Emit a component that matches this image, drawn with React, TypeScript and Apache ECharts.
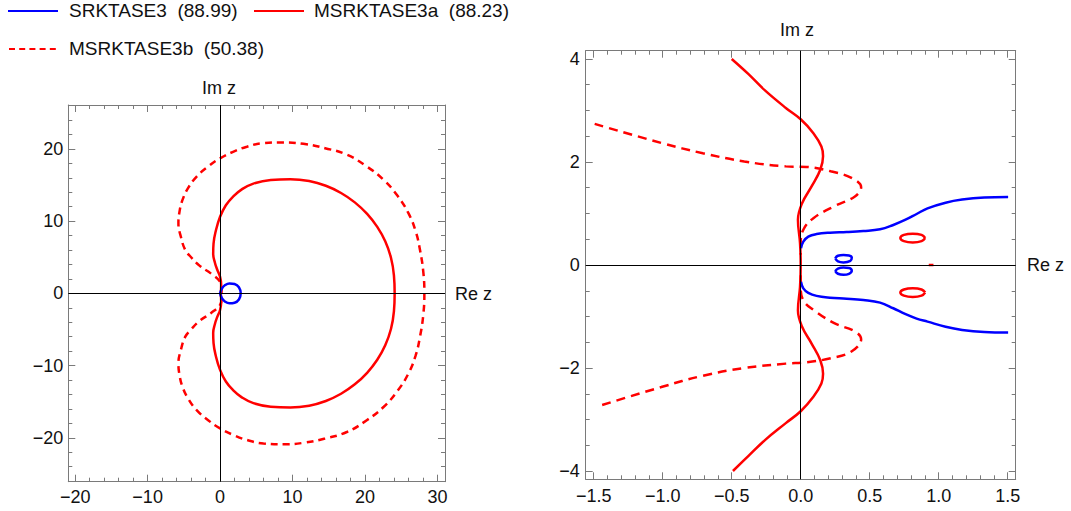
import React, { useEffect, useRef } from "react";
import * as echarts from "echarts";

// ---------- legend ----------
const legendNames = ["SRKTASE3  (88.99)", "MSRKTASE3a  (88.23)", "MSRKTASE3b  (50.38)"];
const BLUE = "#0000ff";
const RED = "#ff0000";
const FRAME = "#7a7a7a";
const FONT = "Liberation Sans, Arial, sans-serif";

// ---------- tick values ----------
const leftXMajor = [-20, -10, 0, 10, 20, 30];
const leftXMinor = [-20, -18, -16, -14, -12, -10, -8, -6, -4, -2, 0, 2, 4, 6, 8, 10, 12, 14, 16, 18, 20, 22, 24, 26, 28, 30];
const leftYMajor = [-20, -10, 0, 10, 20];
const leftYMinor = [-26, -24, -22, -20, -18, -16, -14, -12, -10, -8, -6, -4, -2, 0, 2, 4, 6, 8, 10, 12, 14, 16, 18, 20, 22, 24, 26];
const rightXMajor = [-1.5, -1.0, -0.5, 0, 0.5, 1.0, 1.5];
const rightXMinor = [-1.5, -1.4, -1.3, -1.2, -1.1, -1.0, -0.9, -0.8, -0.7, -0.6, -0.5, -0.4, -0.3, -0.2, -0.1, 0, 0.1, 0.2, 0.3, 0.4, 0.5, 0.6, 0.7, 0.8, 0.9, 1.0, 1.1, 1.2, 1.3, 1.4, 1.5];
const rightYMajor = [-4, -2, 0, 2, 4];
const rightYMinor = [-4, -3.5, -3, -2.5, -2, -1.5, -1, -0.5, 0, 0.5, 1, 1.5, 2, 2.5, 3, 3.5, 4];

// ---------- left panel data ----------
const leftBlueLoop = [
  [0, 0], [0.25, 0.65], [0.7, 1.15], [1.3, 1.38], [2.0, 1.3], [2.6, 0.85], [2.85, 0],
  [2.6, -0.85], [2.0, -1.3], [1.3, -1.38], [0.7, -1.15], [0.25, -0.65], [0, 0],
];
const leftRedSolid = [
  [0.1, 0], [0.15, 1.2], [0, 2.3], [-0.4, 3.3], [-0.7, 4.2], [-0.95, 5.5], [-0.9, 6.9], [-0.6, 8.6],
  [0, 10.6], [0.8, 12.2], [1.8, 13.4], [3.0, 14.4], [4.6, 15.2], [7.0, 15.7], [9.7, 15.8], [12.3, 15.55],
  [14.6, 14.9], [16.7, 13.9], [18.6, 12.6], [20.3, 11.0], [21.7, 9.2], [22.8, 7.2], [23.6, 4.9],
  [24.0, 2.5], [24.1, 0],
  [24.0, -2.5], [23.6, -4.9], [22.8, -7.2], [21.7, -9.2], [20.3, -11.0], [18.6, -12.6], [16.7, -13.9],
  [14.6, -14.9], [12.3, -15.55], [9.7, -15.8], [7.0, -15.7], [4.6, -15.2], [3.0, -14.4], [1.8, -13.4],
  [0.8, -12.2], [0, -10.6], [-0.6, -8.6], [-0.9, -6.9], [-0.95, -5.5], [-0.7, -4.2], [-0.4, -3.3],
  [0, -2.3], [0.15, -1.2], [0.1, 0],
];
const leftRedDashed = [
  [0.2, 0], [0.2, 0.8], [0, 1.6], [-1.2, 2.7], [-2.8, 3.8], [-4.0, 5.0], [-4.8, 6.0], [-5.4, 7.8],
  [-5.75, 9.7], [-5.6, 11.3], [-5.2, 12.9], [-4.4, 14.6], [-3.2, 16.2], [-1.6, 17.6], [0, 18.7],
  [1.8, 19.6], [3.7, 20.3], [6.0, 20.8], [8.75, 20.9], [11.5, 20.7], [14.5, 20.1], [17.5, 19.2],
  [20.2, 17.6], [22.6, 15.7], [24.5, 13.5], [26.0, 11.1], [27.0, 8.6], [27.6, 6.0], [28.05, 3.0], [28.2, 0],
  [28.05, -3.0], [27.6, -6.0], [27.0, -8.6], [26.0, -11.1], [24.5, -13.5], [22.6, -15.7], [20.2, -17.6],
  [17.5, -19.2], [14.5, -20.1], [11.5, -20.7], [8.75, -20.9], [6.0, -20.8], [3.7, -20.3], [1.8, -19.6],
  [0, -18.7], [-1.6, -17.6], [-3.2, -16.2], [-4.4, -14.6], [-5.2, -12.9], [-5.6, -11.3], [-5.75, -9.7],
  [-5.4, -7.8], [-4.8, -6.0], [-4.0, -5.0], [-2.8, -3.8], [-1.2, -2.7], [0, -1.6], [0.2, -0.8], [0.2, 0],
];

// ---------- right panel data ----------
const rightBlueUpper = [
  [0.002, 0.324], [0.019, 0.453], [0.055, 0.55], [0.115, 0.6], [0.212, 0.627], [0.333, 0.64],
  [0.454, 0.66], [0.575, 0.693], [0.671, 0.777], [0.756, 0.874], [0.84, 0.99], [0.919, 1.1],
  [1.05, 1.21], [1.17, 1.27], [1.33, 1.31], [1.503, 1.32],
];
const rightBlueLower = [
  [0.002, -0.324], [0.019, -0.453], [0.055, -0.54], [0.115, -0.6], [0.212, -0.634], [0.333, -0.653],
  [0.454, -0.68], [0.575, -0.73], [0.671, -0.84], [0.756, -0.95], [0.84, -1.04], [0.919, -1.1],
  [1.05, -1.2], [1.17, -1.26], [1.33, -1.3], [1.503, -1.31],
];
const rightBlueLoopUpper = [
  [0.25, 0.13], [0.27, 0.18], [0.31, 0.195], [0.35, 0.185], [0.37, 0.14], [0.36, 0.08],
  [0.31, 0.05], [0.27, 0.07], [0.25, 0.13],
];
const rightBlueLoopLower = [
  [0.25, -0.12], [0.27, -0.07], [0.31, -0.05], [0.35, -0.06], [0.37, -0.11], [0.35, -0.17],
  [0.31, -0.19], [0.27, -0.17], [0.25, -0.12],
];
const rightRedSolid = [
  [-0.5, 4.0], [-0.38, 3.71], [-0.259, 3.39], [-0.108, 3.05], [0, 2.83], [0.092, 2.56], [0.15, 2.3],
  [0.162, 2.11], [0.142, 1.85], [0.08, 1.53], [0.01, 1.2], [-0.02, 0.88], [-0.005, 0.43], [0, 0],
  [-0.005, -0.43], [-0.02, -0.88], [0.01, -1.2], [0.08, -1.53], [0.142, -1.85], [0.162, -2.11],
  [0.15, -2.3], [0.092, -2.56], [0, -2.84], [-0.108, -3.07], [-0.259, -3.4], [-0.38, -3.71], [-0.491, -4.0],
];
const rightRedDashedUpper = [
  [-1.493, 2.74], [-1.01, 2.37], [-0.709, 2.17], [-0.409, 2.01], [-0.108, 1.915], [0.042, 1.905],
  [0.217, 1.82], [0.368, 1.69], [0.438, 1.51], [0.393, 1.33], [0.243, 1.14], [0.092, 0.91],
  [0.02, 0.69], [0.0, 0.43], [0, 0.2],
];
const rightRedDashedLower = [
  [0, -0.2], [0.0, -0.43], [0.02, -0.69], [0.092, -0.87], [0.243, -1.13], [0.393, -1.29], [0.438, -1.44],
  [0.368, -1.68], [0.217, -1.81], [0.042, -1.89], [-0.108, -1.915], [-0.409, -2.0], [-0.709, -2.15],
  [-1.01, -2.37], [-1.453, -2.73],
];
const rightRedOvalUpper = [
  [0.902, 0.524], [0.876, 0.584], [0.812, 0.609], [0.748, 0.584], [0.722, 0.524], [0.748, 0.464],
  [0.812, 0.439], [0.876, 0.464], [0.902, 0.524],
];
const rightRedOvalLower = [
  [0.902, -0.535], [0.876, -0.475], [0.812, -0.45], [0.748, -0.475], [0.722, -0.535], [0.748, -0.595],
  [0.812, -0.62], [0.876, -0.595], [0.902, -0.535],
];
const rightRedDot = [[0.928, 0], [0.962, 0]];

function fmt(decimals: number) {
  return (v: number) => {
    const s = Math.abs(v).toFixed(decimals);
    return v < -1e-9 ? "\u2212" + s : s;
  };
}

function xAxes(grid: number, min: number, max: number, major: number[], minor: number[], dec: number, margin: number) {
  const line = { show: true, onZero: false, lineStyle: { color: FRAME, width: 1 } };
  const noLine = { show: false, onZero: false };
  const base = { gridIndex: grid, type: "value", min, max, splitLine: { show: false } };
  return [
    {
      ...base, position: "bottom", axisLine: line,
      axisTick: { show: true, inside: true, length: 7, customValues: major, lineStyle: { color: FRAME } },
      axisLabel: { show: true, customValues: major, formatter: fmt(dec), margin, fontSize: 18, fontFamily: FONT, color: "#111" },
    },
    {
      ...base, position: "bottom", axisLine: noLine,
      axisTick: { show: true, inside: true, length: 4, customValues: minor, lineStyle: { color: FRAME } },
      axisLabel: { show: false },
    },
    {
      ...base, position: "top", axisLine: line,
      axisTick: { show: true, inside: true, length: 7, customValues: major, lineStyle: { color: FRAME } },
      axisLabel: { show: false },
    },
    {
      ...base, position: "top", axisLine: noLine,
      axisTick: { show: true, inside: true, length: 4, customValues: minor, lineStyle: { color: FRAME } },
      axisLabel: { show: false },
    },
  ];
}

function yAxes(grid: number, min: number, max: number, major: number[], minor: number[], dec: number, margin: number) {
  const line = { show: true, onZero: false, lineStyle: { color: FRAME, width: 1 } };
  const noLine = { show: false, onZero: false };
  const base = { gridIndex: grid, type: "value", min, max, splitLine: { show: false } };
  return [
    {
      ...base, position: "left", axisLine: line,
      axisTick: { show: true, inside: true, length: 7, customValues: major, lineStyle: { color: FRAME } },
      axisLabel: { show: true, customValues: major, formatter: fmt(dec), margin, fontSize: 18, fontFamily: FONT, color: "#111" },
    },
    {
      ...base, position: "left", axisLine: noLine,
      axisTick: { show: true, inside: true, length: 4, customValues: minor, lineStyle: { color: FRAME } },
      axisLabel: { show: false },
    },
    {
      ...base, position: "right", axisLine: line,
      axisTick: { show: true, inside: true, length: 7, customValues: major, lineStyle: { color: FRAME } },
      axisLabel: { show: false },
    },
    {
      ...base, position: "right", axisLine: noLine,
      axisTick: { show: true, inside: true, length: 4, customValues: minor, lineStyle: { color: FRAME } },
      axisLabel: { show: false },
    },
  ];
}

function curve(name: string, data: number[][], axis: number, color: string, dashed: number[] | null, smooth = 0.45) {
  return {
    name,
    type: "line",
    xAxisIndex: axis,
    yAxisIndex: axis,
    data,
    smooth,
    showSymbol: false,
    symbol: "none",
    silent: true,
    z: 3,
    lineStyle: { color, width: 2.5, type: dashed ? dashed : "solid", cap: "butt" },
  };
}

function zeroLines(axis: number) {
  return {
    name: "axes" + axis,
    type: "line",
    xAxisIndex: axis,
    yAxisIndex: axis,
    data: [],
    showSymbol: false,
    silent: true,
    z: 2,
    markLine: {
      silent: true,
      symbol: ["none", "none"],
      label: { show: false },
      lineStyle: { color: "#000", width: 1, type: "solid" },
      emphasis: { disabled: true },
      data: [{ yAxis: 0 }, { xAxis: 0 }],
    },
  };
}

export default function App() {
  const ref = useRef<HTMLDivElement>(null);
  useEffect(() => {
    if (!ref.current) return;
    const chart = echarts.init(ref.current, null, { renderer: "svg" });
    const textStyle = { fontSize: 18, fontFamily: FONT, fill: "#111" };
    const option: any = {
      animation: false,
      backgroundColor: "#fff",
      grid: [
        { left: 68.3, top: 105, width: 376.7, height: 376.7 },
        { left: 585.7, top: 50.7, width: 430, height: 428.6 },
      ],
      xAxis: [
        ...xAxes(0, -20.95, 31.05, leftXMajor, leftXMinor, 0, 6),
        ...xAxes(1, -1.558, 1.558, rightXMajor, rightXMinor, 1, 8),
      ],
      yAxis: [
        ...yAxes(0, -26.08, 26.08, leftYMajor, leftYMinor, 0, 5),
        ...yAxes(1, -4.161, 4.161, rightYMajor, rightYMinor, 0, 6),
      ],
      series: [
        zeroLines(0),
        curve(legendNames[2], leftRedDashed, 0, RED, [7, 5]),
        curve(legendNames[1], leftRedSolid, 0, RED, null),
        curve(legendNames[0], leftBlueLoop, 0, BLUE, null),
        zeroLines(4),
        curve(legendNames[2], rightRedDashedUpper, 4, RED, [9, 6], 0.4),
        curve(legendNames[2], rightRedDashedLower, 4, RED, [9, 6], 0.4),
        curve(legendNames[1], rightRedSolid, 4, RED, null, 0.4),
        curve(legendNames[1], rightRedOvalUpper, 4, RED, null),
        curve(legendNames[1], rightRedOvalLower, 4, RED, null),
        curve(legendNames[1], rightRedDot, 4, RED, null),
        curve(legendNames[0], rightBlueUpper, 4, BLUE, null, 0.4),
        curve(legendNames[0], rightBlueLower, 4, BLUE, null, 0.4),
        curve(legendNames[0], rightBlueLoopUpper, 4, BLUE, null),
        curve(legendNames[0], rightBlueLoopLower, 4, BLUE, null),
      ],
      graphic: [
        { type: "line", shape: { x1: 8, y1: 11, x2: 58, y2: 11 }, style: { stroke: BLUE, lineWidth: 2 } },
        { type: "text", x: 69, y: 10, style: { ...textStyle, fontSize: 19, text: legendNames[0], verticalAlign: "middle" } },
        { type: "line", shape: { x1: 254, y1: 11, x2: 304, y2: 11 }, style: { stroke: RED, lineWidth: 2 } },
        { type: "text", x: 314, y: 10, style: { ...textStyle, fontSize: 19, text: legendNames[1], verticalAlign: "middle" } },
        { type: "line", shape: { x1: 9, y1: 49, x2: 56, y2: 49 }, style: { stroke: RED, lineWidth: 2, lineDash: [6, 4.2] } },
        { type: "text", x: 69, y: 48, style: { ...textStyle, fontSize: 19, text: legendNames[2], verticalAlign: "middle" } },
        { type: "text", x: 219, y: 88, style: { ...textStyle, text: "Im z", align: "center", verticalAlign: "middle" } },
        { type: "text", x: 455, y: 294, style: { ...textStyle, text: "Re z", align: "left", verticalAlign: "middle" } },
        { type: "text", x: 797, y: 30, style: { ...textStyle, text: "Im z", align: "center", verticalAlign: "middle" } },
        { type: "text", x: 1027, y: 265, style: { ...textStyle, text: "Re z", align: "left", verticalAlign: "middle" } },
      ],
    };
    chart.setOption(option);
    return () => chart.dispose();
  }, []);
  return (
    <div
      ref={ref}
      style={{ position: "absolute", left: 0, top: 0, width: 1071, height: 511, background: "#fff" }}
    />
  );
}
